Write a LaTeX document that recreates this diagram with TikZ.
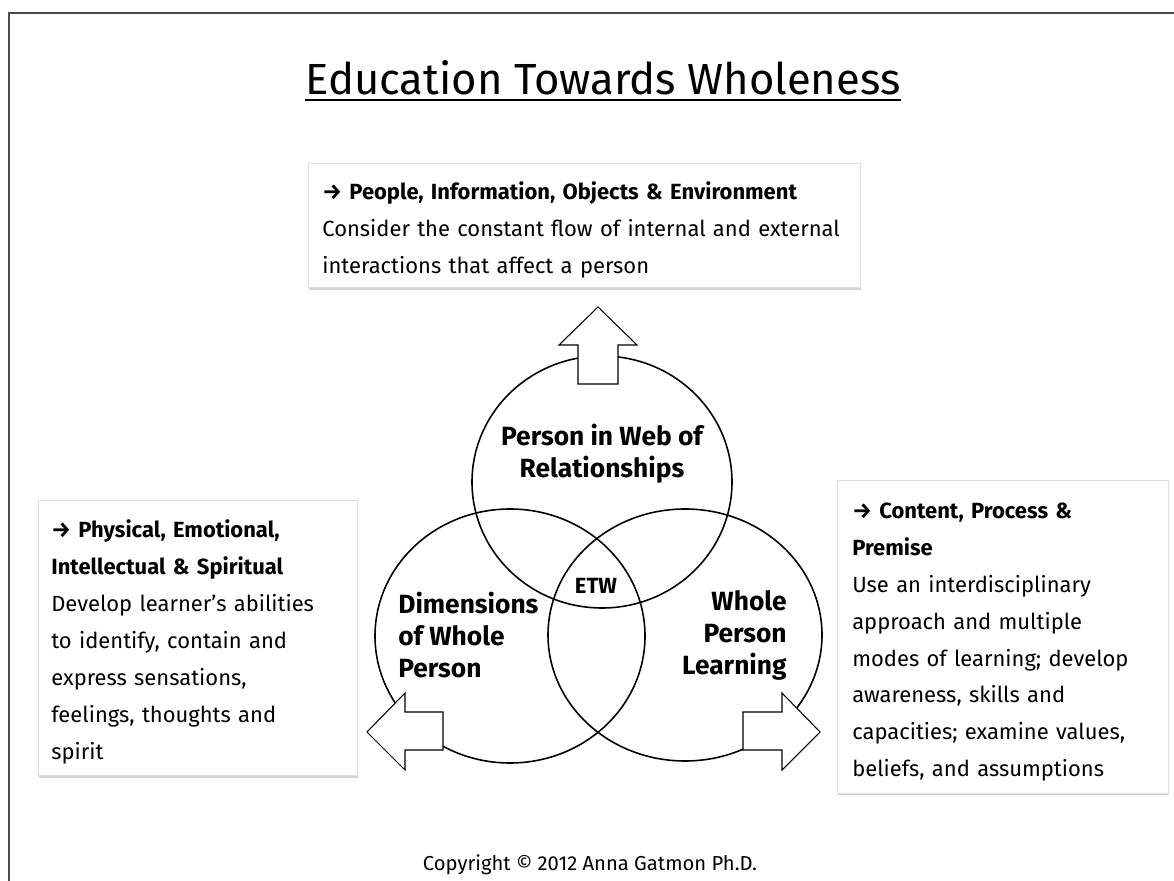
\documentclass[tikz,border=0pt]{standalone}
\usepackage{fontspec}
\setmainfont{Fira Sans}
\usetikzlibrary{positioning,shadows}

\begin{document}
\begin{tikzpicture}[%
    x=0.02cm,
    y=-0.02cm,
    frame/.style={draw=black!70, line width=1.2pt},
    ring/.style={line width=0.9pt},
    fat/.style={draw, fill=white, line width=0.6pt, line join=miter},
    note/.style={draw=black!12, fill=white, align=left, anchor=north west, inner xsep=8pt,
        font={\fontsize{12.5}{21}\selectfont}, execute at begin node={\rule{0pt}{15pt}},
        drop shadow={shadow xshift=0.6pt, shadow yshift=-1.3pt, opacity=0.35}},
    lab/.style={font={\fontsize{15}{18.2}\selectfont\bfseries}, inner sep=0pt}
    ]

    \useasboundingbox (0,0) rectangle (1174,881);
    \draw[frame] (1174,13) -- (9,13) -- (9,881);

    \node[anchor=base, inner sep=0pt, font={\fontsize{24.8}{28}\selectfont}] (title) at (603,95) {Education Towards Wholeness};
        \draw[line width=1.4pt] ([yshift=-3pt] title.base west) -- ([yshift=-3pt] title.base east);

    % the three boxes
    \node[note, text width=298pt, minimum height=70.6pt] (relbox) at (308,163)
        {\textbf{→ People, Information, Objects \& Environment}\\Consider the constant flow of internal and external\\interactions that affect a person};
    \node[note, text width=166.7pt, minimum height=156.5pt, inner xsep=7.4pt] (dimbox) at (38,500)
        {\textbf{→ Physical, Emotional,}\\\textbf{Intellectual \& Spiritual}\\Develop learner’s abilities\\to identify, contain and\\express sensations,\\feelings, thoughts and\\spirit};
    \node[note, text width=171.3pt, minimum height=178pt, inner xsep=8.5pt] (learnbox) at (837,480)
        {\textbf{→ Content, Process \&}\\\textbf{Premise}\\Use an interdisciplinary\\approach and multiple\\modes of learning; develop\\awareness, skills and\\capacities; examine values,\\beliefs, and assumptions};

    % circles
    \draw[ring] (602,482) ellipse [x radius=130, y radius=126];
    \draw[ring] (510,636) ellipse [x radius=135, y radius=127];
    \draw[ring] (685,635) ellipse [x radius=137, y radius=126];

    \draw[fat] (598,307) -- ++(39,38) -- ++(-19,0) -- ++(0,39) -- ++(-40,0) -- ++(0,-39) -- ++(-19,0) -- cycle;
    \draw[fat] (367,732) -- ++(38,-39) -- ++(0,19) -- ++(38,0) -- ++(0,38) -- ++(-38,0) -- ++(0,20) -- cycle;
    \draw[fat] (820,732) -- ++(-38,-39) -- ++(0,19) -- ++(-39,0) -- ++(0,38) -- ++(39,0) -- ++(0,20) -- cycle;

    \node[lab, align=center] (web) at (602,454) {Person in Web of\\Relationships};
    \node[lab, align=left, anchor=west] (dims) at (398,635) {Dimensions\\of Whole\\Person};
    \node[lab, align=right, anchor=east] (wpl) at (787,635) {Whole\\Person\\Learning};
    \node[lab, font={\fontsize{12.5}{14}\selectfont\bfseries}] (etw) at (596,586) {ETW};

    \node[font={\fontsize{11.5}{13}\selectfont}, inner sep=0pt] (copy) at (590,865) {Copyright © 2012 Anna Gatmon Ph.D.};

\end{tikzpicture}
\end{document}
